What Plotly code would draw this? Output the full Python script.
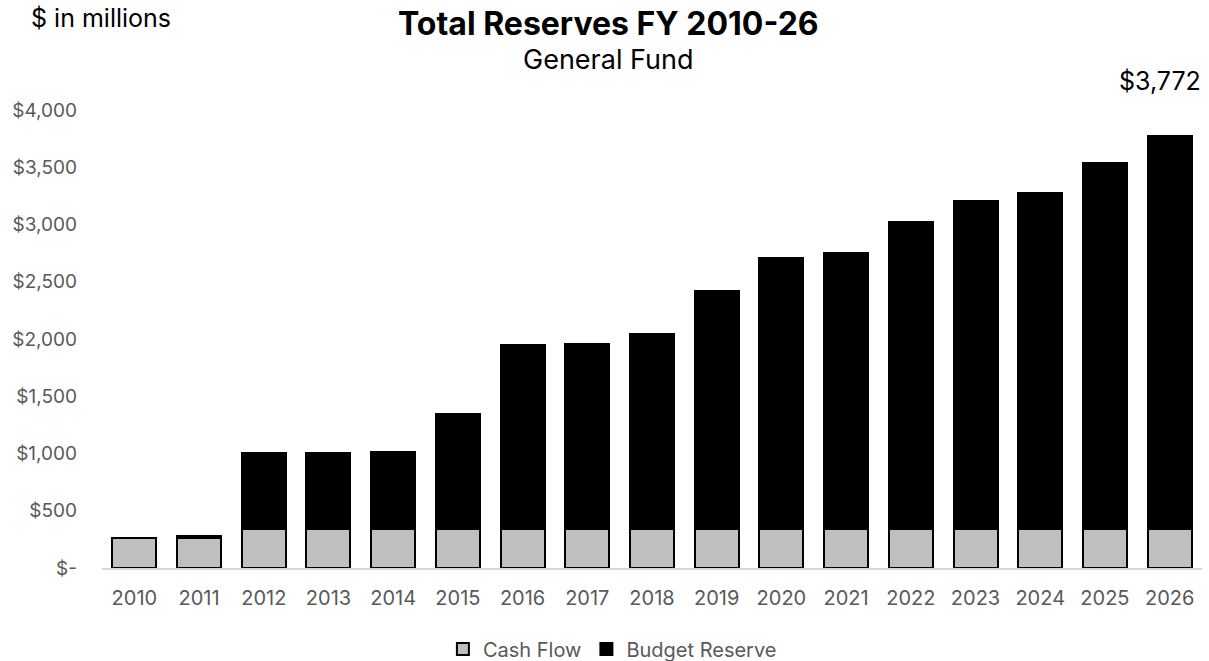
import plotly.graph_objects as go

years = [str(y) for y in range(2010, 2027)]
cash_flow = [266, 266, 338, 338, 340, 338, 338, 338, 338, 338, 338, 338, 338, 338, 338, 338, 338]
totals = [266, 278, 1006, 1005, 1015, 1347, 1946, 1958, 2045, 2417, 2709, 2753, 3020, 3207, 3277, 3533, 3772]
budget_reserve = [t - c for t, c in zip(totals, cash_flow)]

tick_vals = [0, 500, 1000, 1500, 2000, 2500, 3000, 3500, 4000]
tick_text = ["$-", "$500", "$1,000", "$1,500", "$2,000", "$2,500", "$3,000", "$3,500", "$4,000"]

FONT = "Inter, Open Sans, sans-serif"

fig = go.Figure()
fig.add_trace(go.Bar(
    x=years, y=cash_flow, name="Cash Flow",
    marker=dict(color="#BFBFBF", line=dict(color="#000000", width=2)),
))
fig.add_trace(go.Bar(
    x=years, y=budget_reserve, name="Budget Reserve",
    marker=dict(color="#000000", line=dict(color="#000000", width=2)),
))

fig.update_layout(
    barmode="stack",
    bargap=0.32,
    width=1209, height=661,
    margin=dict(l=102, r=7, t=110, b=93, autoexpand=False),
    plot_bgcolor="white", paper_bgcolor="white",
    font=dict(family=FONT, color="#595959", size=16),
    showlegend=True,
    legend=dict(orientation="h", x=0.464, xanchor="center", yref="container", y=0.018,
                yanchor="middle", font=dict(size=20, color="#595959"), traceorder="normal"),
    xaxis=dict(type="category", range=[-0.5, len(years) - 0.5], autorange=False,
               showgrid=False, showline=True, linecolor="#D9D9D9", linewidth=1.5,
               tickfont=dict(size=20, color="#595959"), ticks="", ticklabelstandoff=11,
               automargin=False),
    yaxis=dict(range=[0, 4000], autorange=False, tickvals=tick_vals, ticktext=tick_text, showgrid=False,
               zeroline=False, showline=False, ticks="", tickfont=dict(size=19, color="#595959"),
               ticklabelstandoff=24, automargin=False),
    annotations=[
        dict(text="<b>Total Reserves FY 2010-26</b>", xref="paper", yref="paper", x=0.46, y=1.188,
             xanchor="center", yanchor="middle", showarrow=False,
             font=dict(size=32, color="#000000", family=FONT)),
        dict(text="General Fund", xref="paper", yref="paper", x=0.46, y=1.110,
             xanchor="center", yanchor="middle", showarrow=False,
             font=dict(size=27, color="#000000", family=FONT)),
        dict(text="$ in millions", xref="paper", yref="paper", x=-0.066, y=1.200,
             xanchor="left", yanchor="middle", showarrow=False,
             font=dict(size=25, color="#000000", family=FONT)),
        dict(text="$" + f"{totals[-1]:,}", xref="x", yref="y", x=len(years) - 1, y=totals[-1],
             xanchor="center", yanchor="bottom", yshift=38, xshift=-10, showarrow=False,
             font=dict(size=25, color="#000000", family=FONT)),
    ],
)

fig.write_html("out.html")
